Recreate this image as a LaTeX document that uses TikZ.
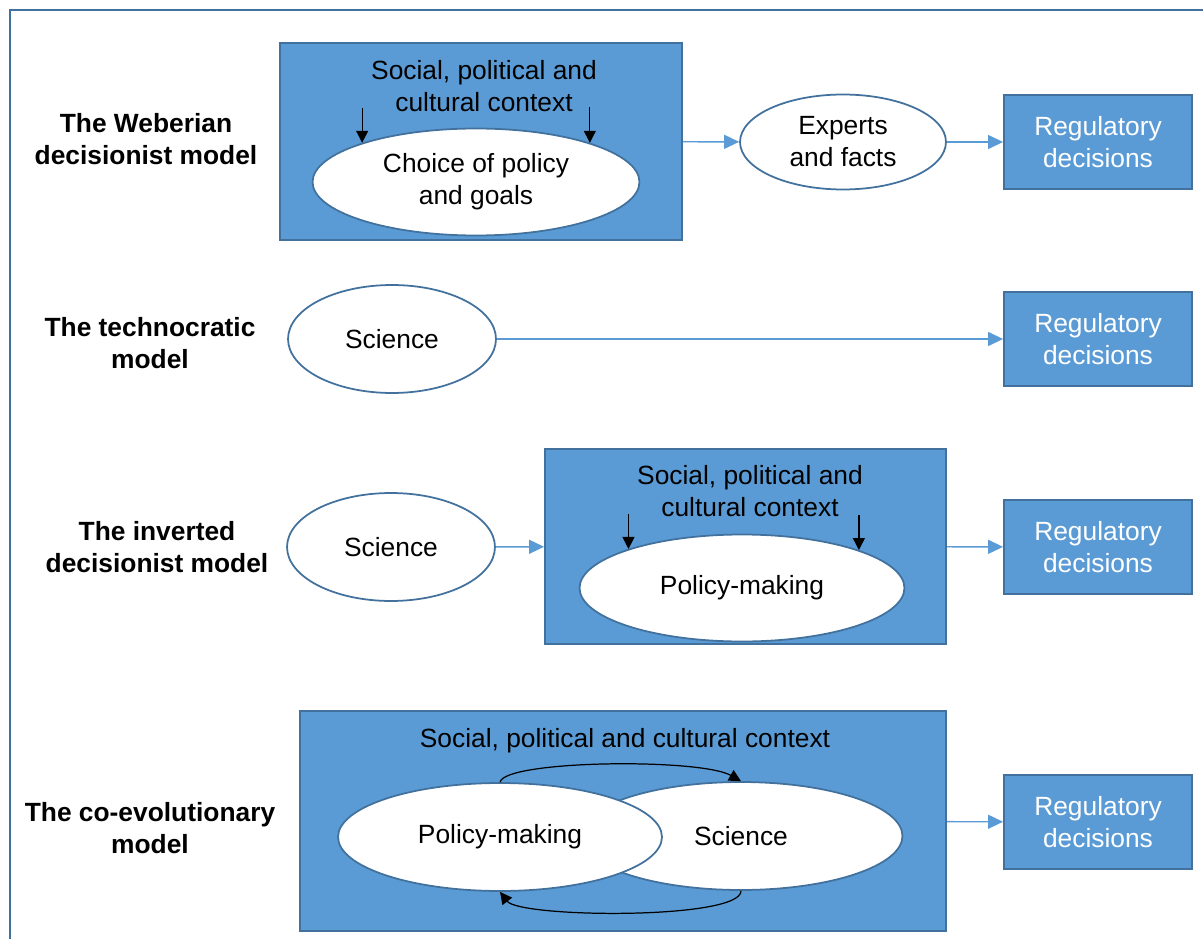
\documentclass[tikz,border=0pt]{standalone}
\usepackage{fontspec}
\setmainfont{Liberation Sans}
\usetikzlibrary{shapes.geometric,arrows.meta}
\definecolor{boxfill}{HTML}{5B9BD5}
\definecolor{boxline}{HTML}{41719C}
\begin{document}
\begin{tikzpicture}[x=.02cm,y=-.02cm,
  every node/.style={font=\fontsize{15}{18.2}\selectfont,align=center,inner sep=0pt},
  ctx/.style={draw=boxline,fill=boxfill,line width=1.1pt},
  oval/.style={ellipse,draw=boxline,fill=white,line width=1pt},
  rd/.style={ctx,text=white,minimum width=3.76cm,minimum height=1.88cm},
  lbl/.style={font=\fontsize{15}{18.2}\selectfont\bfseries},
  conn/.style={draw=boxfill,line width=.8pt,-{Triangle[length=.3cm,width=.28cm]}},
  down/.style={line width=.7pt,-{Triangle[length=.24cm,width=.24cm]}}]
\useasboundingbox (0,0) rectangle (1203,939);
\draw[boxline,line width=1.1pt] (10,939) -- (10,10) -- (1203,10);
% the Weberian decisionist model
\node[lbl] (lweber) at (146,139) {The Weberian\\decisionist model};
\node[ctx,minimum width=8.04cm,minimum height=3.94cm] (weber) at (481,141.5) {};
\node (ctxa) at (484,86) {Social, political and\\cultural context};
\node[oval,minimum width=6.54cm,minimum height=2.14cm] (choice) at (476,182) {Choice of policy\\and goals};
\coordinate (wa) at ([yshift=.7cm]choice.161);
\coordinate (wb) at ([yshift=.72cm]choice.19);
\draw[down] (wa) -- (choice.161);
\draw[down] (wb) -- (choice.19);
\node[oval,minimum width=4.12cm,minimum height=1.9cm] (experts) at (843,142) {Experts\\and facts};
\node[rd] (rda) at (1098,142) {Regulatory\\decisions};
\draw[conn] (weber) -- (experts);
\draw[conn] (experts) -- (rda);
% the technocratic model
\node[lbl] (ltech) at (150,343) {The technocratic\\model};
\node[oval,minimum width=4.16cm,minimum height=2.16cm] (scib) at (392,339) {Science};
\node[rd] (rdb) at (1098,339) {Regulatory\\decisions};
\draw[conn] (scib) -- (rdb);
% the inverted decisionist model
\node[lbl] (linv) at (157,547) {The inverted\\decisionist model};
\node[oval,minimum width=4.16cm,minimum height=2.16cm] (scic) at (391,547) {Science};
\node[ctx,minimum width=8.02cm,minimum height=3.9cm] (inv) at (745.5,546.5) {};
\node (ctxc) at (750,491) {Social, political and\\cultural context};
\node[oval,minimum width=6.5cm,minimum height=2.14cm] (polc) at (742,588) {Policy-making};
\coordinate (ia) at ([yshift=.7cm]polc.161.5);
\coordinate (ib) at ([yshift=.7cm]polc.18.5);
\draw[down] (ia) -- (polc.161.5);
\draw[down] (ib) -- (polc.18.5);
\node[rd] (rdc) at (1098,547) {Regulatory\\decisions};
\draw[conn] (scic) -- (inv);
\draw[conn] (inv) -- (rdc);
% the co-evolutionary model
\node[lbl] (lcoevo) at (150,828) {The co-evolutionary\\model};
\node[ctx,minimum width=12.92cm,minimum height=4.4cm] (coevo) at (623,821) {};
\node (ctxd) at (625,741) {Social, political and cultural context};
\node[oval,minimum width=6.46cm,minimum height=2.16cm] (scid) at (741,836) {Science};
\node[oval,minimum width=6.48cm,minimum height=2.16cm] (pold) at (500,837) {Policy-making};
\draw[down] (pold.north) .. controls (505,760) and (700,758) .. (scid.north);
\draw[down] (scid.south) .. controls (741,920) and (520,918) .. (pold.south);
\node[rd] (rdd) at (1098,822) {Regulatory\\decisions};
\draw[conn] (coevo) -- (rdd);
\end{tikzpicture}
\end{document}
